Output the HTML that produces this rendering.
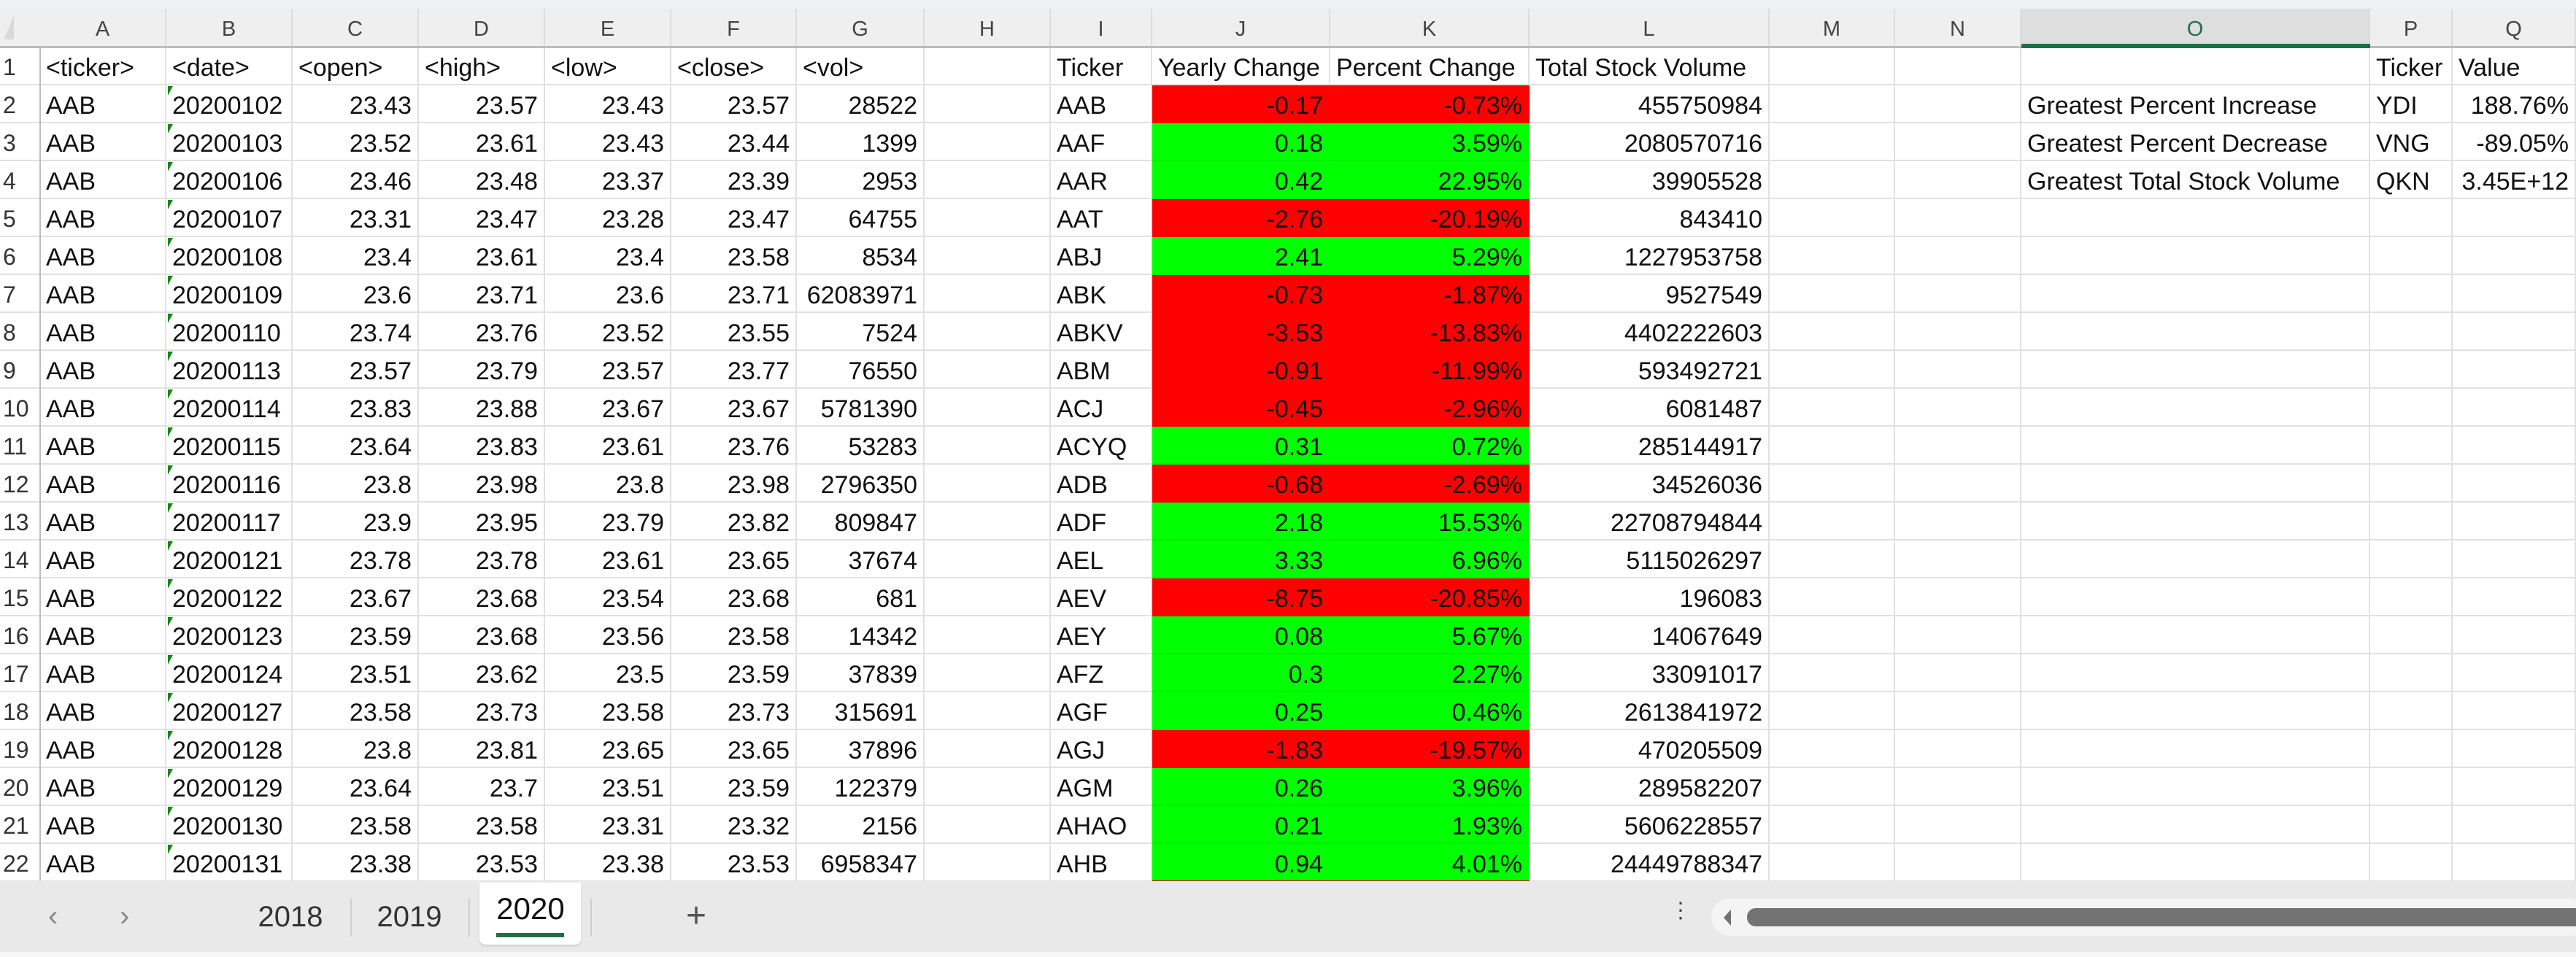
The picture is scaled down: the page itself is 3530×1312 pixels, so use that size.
<!DOCTYPE html>
<html><head><meta charset="utf-8">
<style>
html,body{margin:0;padding:0;}
body{width:3530px;height:1312px;position:relative;overflow:hidden;background:#fff;font-family:"Liberation Sans",sans-serif;}
.abs{position:absolute;box-sizing:border-box;}
.cell{position:absolute;box-sizing:border-box;font-size:34px;line-height:52px;height:52px;white-space:nowrap;overflow:visible;color:#111;padding:2px 8px 0 8px;border-right:2px solid #e1e1e1;border-bottom:2px solid #e1e1e1;}
.r{text-align:right;}
.colh{position:absolute;top:12px;height:53px;line-height:56px;text-align:center;font-size:29px;color:#444;background:#efefef;border-right:2px solid #dcdcdc;box-sizing:border-box;}
.rowh{position:absolute;left:0;width:55px;height:52px;line-height:54px;font-size:32px;color:#333;padding-left:4px;box-sizing:border-box;background:#fff;border-bottom:2px solid #e1e1e1;}
.tri{position:absolute;width:0;height:0;border-top:13px solid #128a12;border-right:7px solid transparent;}
</style></head>
<body>
<div class="abs" style="left:0;top:0;width:3530px;height:12px;background:#eef0f3;"></div>
<div class="abs" style="left:0;top:12px;width:55px;height:53px;background:#efefef;"></div>
<div class="abs" style="left:5px;top:22px;width:0;height:0;border-bottom:32px solid #d9d9d9;border-left:14px solid transparent;"></div>
<div id="grid"></div>
<div class="abs" style="left:0;top:63px;width:3530px;height:3px;background:#bdbdbd;"></div>
<div class="abs" style="left:54px;top:63px;width:2px;height:1144px;background:#bdbdbd;"></div>
<div class="abs" style="left:1579px;top:1207px;width:517px;height:3px;background:#e00000;"></div>

<div class="abs" style="left:0;top:1208px;width:3530px;height:97px;background:#e9e9e9;"></div>
<div class="abs" style="left:0;top:1305px;width:3530px;height:7px;background:#f7f7f7;"></div>
<div class="abs" style="left:66px;top:1226px;width:30px;height:60px;font-size:40px;color:#888;line-height:60px;">&#x2039;</div>
<div class="abs" style="left:164px;top:1226px;width:30px;height:60px;font-size:40px;color:#888;line-height:60px;">&#x203A;</div>
<div class="abs" style="left:350px;top:1225px;width:96px;height:60px;font-size:40px;line-height:64px;color:#333;text-align:center;">2018</div>
<div class="abs" style="left:480px;top:1232px;width:2px;height:52px;background:#cfcfcf;"></div>
<div class="abs" style="left:513px;top:1225px;width:96px;height:60px;font-size:40px;line-height:64px;color:#333;text-align:center;">2019</div>
<div class="abs" style="left:642px;top:1232px;width:2px;height:52px;background:#cfcfcf;"></div>
<div class="abs" style="left:657px;top:1210px;width:139px;height:85px;background:#fff;border-radius:0 0 8px 8px;box-shadow:0 2px 3px rgba(0,0,0,0.12);"></div>
<div class="abs" style="left:677px;top:1216px;width:100px;height:60px;font-size:42px;line-height:60px;color:#111;text-align:center;">2020</div>
<div class="abs" style="left:680px;top:1279px;width:93px;height:6px;background:#1e7145;"></div>
<div class="abs" style="left:809px;top:1232px;width:2px;height:52px;background:#cfcfcf;"></div>
<div class="abs" style="left:932px;top:1226px;width:44px;height:60px;font-size:48px;line-height:60px;color:#555;text-align:center;">+</div>
<div class="abs" style="left:2288px;top:1244px;width:14px;height:30px;font-size:30px;line-height:10px;color:#444;text-align:center;">&#8942;</div>
<div class="abs" style="left:2345px;top:1232px;width:1200px;height:51px;background:#f4f4f4;border-radius:25px;"></div>
<div class="abs" style="left:2362px;top:1247px;width:0;height:0;border-right:10px solid #707070;border-top:11px solid transparent;border-bottom:11px solid transparent;"></div>
<div class="abs" style="left:2394px;top:1245px;width:1150px;height:25px;background:#737373;border-radius:12px;"></div>

<script>
const colNames=["A","B","C","D","E","F","G","H","I","J","K","L","M","N","O","P","Q"];
const colEdges=[55,228,401,574,747,920,1092,1267,1440,1579,1823,2096,2425,2597,2770,3248,3361,3530];
const headers=["<ticker>","<date>","<open>","<high>","<low>","<close>","<vol>","","Ticker","Yearly Change","Percent Change","Total Stock Volume","","","","Ticker","Value"];
const dates=["20200102","20200103","20200106","20200107","20200108","20200109","20200110","20200113","20200114","20200115","20200116","20200117","20200121","20200122","20200123","20200124","20200127","20200128","20200129","20200130","20200131"];
const opens=["23.43","23.52","23.46","23.31","23.4","23.6","23.74","23.57","23.83","23.64","23.8","23.9","23.78","23.67","23.59","23.51","23.58","23.8","23.64","23.58","23.38"];
const highs=["23.57","23.61","23.48","23.47","23.61","23.71","23.76","23.79","23.88","23.83","23.98","23.95","23.78","23.68","23.68","23.62","23.73","23.81","23.7","23.58","23.53"];
const lows=["23.43","23.43","23.37","23.28","23.4","23.6","23.52","23.57","23.67","23.61","23.8","23.79","23.61","23.54","23.56","23.5","23.58","23.65","23.51","23.31","23.38"];
const closes=["23.57","23.44","23.39","23.47","23.58","23.71","23.55","23.77","23.67","23.76","23.98","23.82","23.65","23.68","23.58","23.59","23.73","23.65","23.59","23.32","23.53"];
const vols=["28522","1399","2953","64755","8534","62083971","7524","76550","5781390","53283","2796350","809847","37674","681","14342","37839","315691","37896","122379","2156","6958347"];
const tickers=["AAB","AAF","AAR","AAT","ABJ","ABK","ABKV","ABM","ACJ","ACYQ","ADB","ADF","AEL","AEV","AEY","AFZ","AGF","AGJ","AGM","AHAO","AHB"];
const yearly=["-0.17","0.18","0.42","-2.76","2.41","-0.73","-3.53","-0.91","-0.45","0.31","-0.68","2.18","3.33","-8.75","0.08","0.3","0.25","-1.83","0.26","0.21","0.94"];
const pct=["-0.73%","3.59%","22.95%","-20.19%","5.29%","-1.87%","-13.83%","-11.99%","-2.96%","0.72%","-2.69%","15.53%","6.96%","-20.85%","5.67%","2.27%","0.46%","-19.57%","3.96%","1.93%","4.01%"];
const totals=["455750984","2080570716","39905528","843410","1227953758","9527549","4402222603","593492721","6081487","285144917","34526036","22708794844","5115026297","196083","14067649","33091017","2613841972","470205509","289582207","5606228557","24449788347"];
const sumLabels=["Greatest Percent Increase","Greatest Percent Decrease","Greatest Total Stock Volume"];
const sumTickers=["YDI","VNG","QKN"];
const sumValues=["188.76%","-89.05%","3.45E+12"];

const grid=document.getElementById('grid');
function rowTop(r){return r===1?65:117+(r-2)*52;}
function mk(c,r,text,right,bg,name){
  const d=document.createElement('div');
  d.className='cell'+(right?' r':'');
  d.style.left=colEdges[c]+'px';
  d.style.top=rowTop(r)+'px';
  d.style.width=(colEdges[c+1]-colEdges[c])+'px';
  if(bg){d.style.background=bg;d.style.borderRightColor=bg;d.style.borderBottomColor=bg==='#ff0000'?'#ff0000':'#00ee00';}
  d.textContent=text;
  
  
  grid.appendChild(d);
  return d;
}
for(let c=0;c<colNames.length;c++){
  const h=document.createElement('div');
  h.className='colh';
  h.style.left=colEdges[c]+'px';
  h.style.width=(colEdges[c+1]-colEdges[c])+'px';
  h.textContent=colNames[c];
  if(colNames[c]==='O'){h.style.background='#dedede';h.style.color='#1e7145';}
  
  
  grid.appendChild(h);
}
const sel=document.createElement('div');
sel.className='abs';
sel.style.cssText='left:2770px;top:60px;width:478px;height:6px;background:#1e7145;z-index:2;';


grid.appendChild(sel);
for(let r=1;r<=22;r++){
  const h=document.createElement('div');
  h.className='rowh';
  h.style.top=rowTop(r)+'px';
  h.textContent=r;
  
  
  grid.appendChild(h);
}
for(let c=0;c<colNames.length;c++){
  mk(c,1,headers[c],false,null,'header-cell-'+colNames[c].toLowerCase());
}
for(let i=0;i<21;i++){
  const r=i+2;
  mk(0,r,'AAB',false,null,'ticker-cell');
  mk(1,r,dates[i],false,null,'date-cell');
  const t=document.createElement('div');
  t.className='tri';
  t.style.left=(colEdges[1]+2)+'px';
  t.style.top=(rowTop(r)+1)+'px';
  
  
  grid.appendChild(t);
  mk(2,r,opens[i],true,null,'open-cell');
  mk(3,r,highs[i],true,null,'high-cell');
  mk(4,r,lows[i],true,null,'low-cell');
  mk(5,r,closes[i],true,null,'close-cell');
  mk(6,r,vols[i],true,null,'vol-cell');
  mk(7,r,'',false,null,'empty-cell');
  mk(8,r,tickers[i],false,null,'summary-ticker-cell');
  const neg=parseFloat(yearly[i])<0;
  const bg=neg?'#ff0000':'#00ff00';
  mk(9,r,yearly[i],true,bg,'yearly-change-cell');
  mk(10,r,pct[i],true,bg,'percent-change-cell');
  mk(11,r,totals[i],true,null,'total-volume-cell');
  mk(12,r,'',false,null,'empty-cell');
  mk(13,r,'',false,null,'empty-cell');
  mk(14,r,i<3?sumLabels[i]:'',false,null,'greatest-label-cell');
  mk(15,r,i<3?sumTickers[i]:'',false,null,'greatest-ticker-cell');
  mk(16,r,i<3?sumValues[i]:'',true,null,'greatest-value-cell');
}
</script>
</body></html>
